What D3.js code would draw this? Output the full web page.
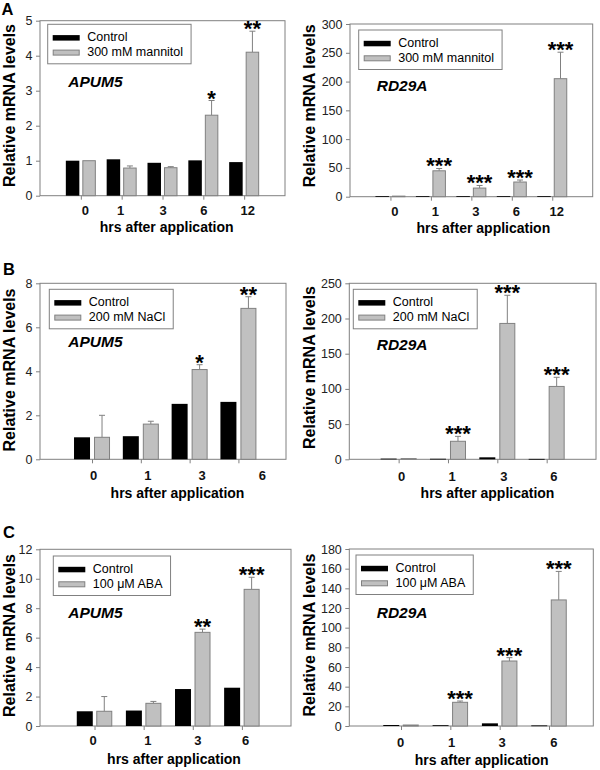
<!DOCTYPE html>
<html><head><meta charset="utf-8">
<script src="https://cdn.jsdelivr.net/npm/d3@7/dist/d3.min.js"></script>
<style>body{margin:0;background:#fff} svg{display:block}</style>
</head><body>
<svg id="chart" width="600" height="770"></svg>
<script>
// ---------------- DATA ----------------
const panelLetters = ["A", "B", "C"];
const controlName = "Control";
const treatmentNames = ["300 mM mannitol", "200 mM NaCl", "100 \u03BCM ABA"];
const geneNames = ["APUM5", "RD29A"];
const yTitle = "Relative mRNA levels";
const xTitle = "hrs after application";
const timesMannitol = ["0", "1", "3", "6", "12"];
const timesSaltABA = ["0", "1", "3", "6"];

// A: mannitol
const apum5MannitolCtrl = [1.00, 1.04, 0.94, 1.01, 0.96];
const apum5Mannitol     = [1.00, 0.79, 0.80, 2.30, 4.10];
const apum5MannitolErr  = [0.00, 0.06, 0.03, 0.42, 0.60];
const apum5MannitolSig  = ["", "", "", "*", "**"];
const rd29aMannitolCtrl = [1.0, 1.0, 1.0, 1.0, 1.0];
const rd29aMannitol     = [1.0, 45.0, 15.0, 25.5, 205.0];
const rd29aMannitolErr  = [0.0, 4.0, 4.5, 3.5, 46.0];
const rd29aMannitolSig  = ["", "***", "***", "***", "***"];
// B: NaCl
const apum5SaltCtrl = [1.00, 1.05, 2.52, 2.61];
const apum5Salt     = [1.00, 1.60, 4.08, 6.86];
const apum5SaltErr  = [1.00, 0.13, 0.22, 0.53];
const apum5SaltSig  = ["", "", "*", "**"];
const rd29aSaltCtrl = [1.0, 0.8, 2.8, 0.6];
const rd29aSalt     = [1.0, 25.6, 193.0, 103.5];
const rd29aSaltErr  = [0.0, 7.0, 40.0, 13.0];
const rd29aSaltSig  = ["", "***", "***", "***"];
// C: ABA
const apum5AbaCtrl = [1.00, 1.05, 2.51, 2.60];
const apum5Aba     = [1.00, 1.54, 6.36, 9.28];
const apum5AbaErr  = [1.00, 0.13, 0.22, 0.82];
const apum5AbaSig  = ["", "", "**", "***"];
const rd29aAbaCtrl = [1.0, 0.8, 2.7, 0.6];
const rd29aAba     = [1.0, 24.1, 66.1, 128.2];
const rd29aAbaErr  = [0.0, 1.3, 3.4, 29.0];
const rd29aAbaSig  = ["", "***", "***", "***"];

// y tick values
const yTicksApum5Mannitol = [0, 1, 2, 3, 4, 5];
const yTicksRd29aMannitol = [0, 50, 100, 150, 200, 250, 300];
const yTicksApum5Salt = [0, 2, 4, 6, 8];
const yTicksRd29aSalt = [0, 50, 100, 150, 200, 250];
const yTicksApum5Aba = [0, 2, 4, 6, 8, 10, 12];
const yTicksRd29aAba = [0, 20, 40, 60, 80, 100, 120, 140, 160, 180];

// ---------------- LAYOUT (positions / styles) ----------------
const layout = [
  {left:40, right:285, top:20.7, bottom:195.7, xDomain:[-1,5], bw:13.5, gap:3,
   legend:[47.7,24.3], gene:[68.3,86.7], yTitle:[15,105.5], xTitle:[166.7,232], tickLab:215.3, labDx:[4,-1.5,0,0,3]},
  {left:350, right:592.7, top:24, bottom:196.7, xDomain:[-1,5], bw:13.5, gap:3,
   legend:[358.7,30], gene:[376.7,90.7], yTitle:[315,105.8], xTitle:[483.3,232.5], tickLab:215.8, labDx:[4,4,4,4,4]},
  {left:40, right:286, top:283.3, bottom:459.3, xDomain:[-1.066,3.975], bw:16, gap:4,
   legend:[49.3,289.3], gene:[68.3,347.3], yTitle:[15,370], xTitle:[177.5,498.3], tickLab:480, labDx:[1,6.5,12,23.5]},
  {left:349.3, right:596, top:283.3, bottom:459.3, xDomain:[-1,4], bw:16, gap:4,
   legend:[353.3,289.3], gene:[376.7,350], yTitle:[315,367.5], xTitle:[487.5,498.3], tickLab:481.5, labDx:[2.4,3.7,6,6.7]},
  {left:40, right:291, top:549.3, bottom:726, xDomain:[-1.11,4.0], bw:16, gap:3.5,
   legend:[53.3,556], gene:[68.3,618.3], yTitle:[15,635.5], xTitle:[174,764], tickLab:745, labDx:[-2,3.7,4.7,3.3]},
  {left:349.3, right:593.3, top:549, bottom:726, xDomain:[-1.048,3.898], bw:16, gap:3.5,
   legend:[356,555], gene:[376.7,618.3], yTitle:[315,635], xTitle:[481.7,765], tickLab:746.5, labDx:[-1,0.7,2,4.3]}
];

const panels = [
  {times:timesMannitol, ctrl:apum5MannitolCtrl, trt:apum5Mannitol, err:apum5MannitolErr, sig:apum5MannitolSig, yTicks:yTicksApum5Mannitol, gene:geneNames[0], treat:treatmentNames[0]},
  {times:timesMannitol, ctrl:rd29aMannitolCtrl, trt:rd29aMannitol, err:rd29aMannitolErr, sig:rd29aMannitolSig, yTicks:yTicksRd29aMannitol, gene:geneNames[1], treat:treatmentNames[0]},
  {times:timesSaltABA, ctrl:apum5SaltCtrl, trt:apum5Salt, err:apum5SaltErr, sig:apum5SaltSig, yTicks:yTicksApum5Salt, gene:geneNames[0], treat:treatmentNames[1]},
  {times:timesSaltABA, ctrl:rd29aSaltCtrl, trt:rd29aSalt, err:rd29aSaltErr, sig:rd29aSaltSig, yTicks:yTicksRd29aSalt, gene:geneNames[1], treat:treatmentNames[1]},
  {times:timesSaltABA, ctrl:apum5AbaCtrl, trt:apum5Aba, err:apum5AbaErr, sig:apum5AbaSig, yTicks:yTicksApum5Aba, gene:geneNames[0], treat:treatmentNames[2]},
  {times:timesSaltABA, ctrl:rd29aAbaCtrl, trt:rd29aAba, err:rd29aAbaErr, sig:rd29aAbaSig, yTicks:yTicksRd29aAba, gene:geneNames[1], treat:treatmentNames[2]}
];

const FONT = "'Liberation Sans', Arial, Helvetica, sans-serif";
const GRAY_LINE = "#808080";
const GRAY_FILL = "#c0c0c0";
const svg = d3.select("#chart").attr("font-family", FONT);

const letterPos = [[1.5,15],[3,275],[3,538]];
panelLetters.forEach((L,i) => {
  svg.append("text").attr("x", letterPos[i][0]).attr("y", letterPos[i][1])
    .attr("font-size", 16.5).attr("font-weight", "bold").text(L);
});

panels.forEach((p, i) => {
  const L = layout[i];
  const g = svg.append("g");
  const idx = p.times.map((t, k) => k);
  const x = d3.scaleLinear().domain(L.xDomain).range([L.left, L.right]);
  const yMax = p.yTicks[p.yTicks.length - 1];
  const y = d3.scaleLinear().domain([0, yMax]).range([L.bottom, L.top]);

  // frame
  g.append("rect").attr("x", L.left).attr("y", L.top)
    .attr("width", L.right - L.left).attr("height", L.bottom - L.top)
    .attr("fill", "none").attr("stroke", GRAY_LINE).attr("stroke-width", 1);

  // y axis
  const ya = d3.axisLeft(y).tickValues(p.yTicks).tickSize(4).tickPadding(3.5).tickFormat(d3.format("d"));
  const yg = g.append("g").attr("transform", `translate(${L.left},0)`).call(ya);
  yg.select(".domain").remove();
  yg.selectAll(".tick line").attr("stroke", GRAY_LINE);
  yg.selectAll(".tick text").attr("font-size", 12.5).attr("font-family", FONT).attr("fill", "#222");

  // x axis ticks (at group centers) and labels
  const xa = d3.axisBottom(x).tickValues(idx).tickSize(4).tickFormat(k => p.times[k]);
  const xg = g.append("g").attr("transform", `translate(0,${L.bottom})`).call(xa);
  xg.select(".domain").remove();
  xg.selectAll(".tick line").attr("stroke", GRAY_LINE);
  xg.selectAll(".tick text")
    .attr("font-size", 13).attr("font-weight", "bold").attr("font-family", FONT).attr("fill", "#111")
    .attr("dy", null)
    .attr("y", L.tickLab - L.bottom)
    .attr("dx", k => L.labDx[k]);

  // bars: control
  g.selectAll(".ctrl").data(idx).join("rect")
    .attr("x", k => x(k) - L.gap/2 - L.bw)
    .attr("width", L.bw)
    .attr("y", k => y(p.ctrl[k]))
    .attr("height", k => Math.max(0.8, y(0) - y(p.ctrl[k])))
    .attr("fill", "#000");

  // error bars (treatment, upward only)
  idx.filter(k => p.err[k] > 0).forEach(k => {
    const cx = x(k) + L.gap/2 + L.bw/2;
    g.append("line").attr("x1", cx).attr("x2", cx)
      .attr("y1", y(p.trt[k])).attr("y2", y(p.trt[k] + p.err[k]))
      .attr("stroke", GRAY_LINE);
    g.append("line").attr("x1", cx - 3).attr("x2", cx + 3)
      .attr("y1", y(p.trt[k] + p.err[k])).attr("y2", y(p.trt[k] + p.err[k]))
      .attr("stroke", GRAY_LINE);
  });

  // bars: treatment
  g.selectAll(".trt").data(idx).join("rect")
    .attr("x", k => x(k) + L.gap/2 + 0.5)
    .attr("width", L.bw - 1)
    .attr("y", k => y(p.trt[k]))
    .attr("height", k => Math.max(0.5, y(0) - y(p.trt[k])))
    .attr("fill", GRAY_FILL).attr("stroke", GRAY_LINE).attr("stroke-width", 1);

  // significance asterisks
  g.selectAll(".sig").data(idx.filter(k => p.sig[k])).join("text")
    .attr("x", k => x(k) + L.gap/2 + L.bw/2)
    .attr("y", k => y(p.trt[k] + p.err[k]) + 5)
    .attr("text-anchor", "middle")
    .attr("font-size", 22).attr("font-weight", "bold")
    .text(k => p.sig[k]);

  // legend
  const lg = g.append("g").attr("transform", `translate(${L.legend[0]},${L.legend[1]})`);
  const box = lg.append("rect").attr("x", 0).attr("y", 0).attr("height", 39.5)
    .attr("fill", "#fff").attr("stroke", GRAY_LINE);
  lg.append("rect").attr("x", 5).attr("y", 10.8).attr("width", 27).attr("height", 5.5).attr("fill", "#000");
  lg.append("rect").attr("x", 5.5).attr("y", 25.8).attr("width", 26).attr("height", 5).attr("fill", GRAY_FILL).attr("stroke", GRAY_LINE);
  const t1 = lg.append("text").attr("x", 39.5).attr("y", 16.8).attr("font-size", 12.5).text(controlName);
  const t2 = lg.append("text").attr("x", 39.5).attr("y", 31.5).attr("font-size", 12.5).text(p.treat);
  const w = Math.max(t1.node().getComputedTextLength(), t2.node().getComputedTextLength());
  box.attr("width", 39.5 + w + 8);

  // gene label
  g.append("text").attr("x", L.gene[0]).attr("y", L.gene[1])
    .attr("font-size", 15.5).attr("font-weight", "bold").attr("font-style", "italic").text(p.gene);

  // axis titles
  g.append("text").attr("transform", `translate(${L.yTitle[0]},${L.yTitle[1]}) rotate(-90)`)
    .attr("text-anchor", "middle").attr("font-size", 16).attr("font-weight", "bold").text(yTitle);
  g.append("text").attr("x", L.xTitle[0]).attr("y", L.xTitle[1])
    .attr("text-anchor", "middle").attr("font-size", 14).attr("font-weight", "bold").text(xTitle);
});
</script>
</body></html>
